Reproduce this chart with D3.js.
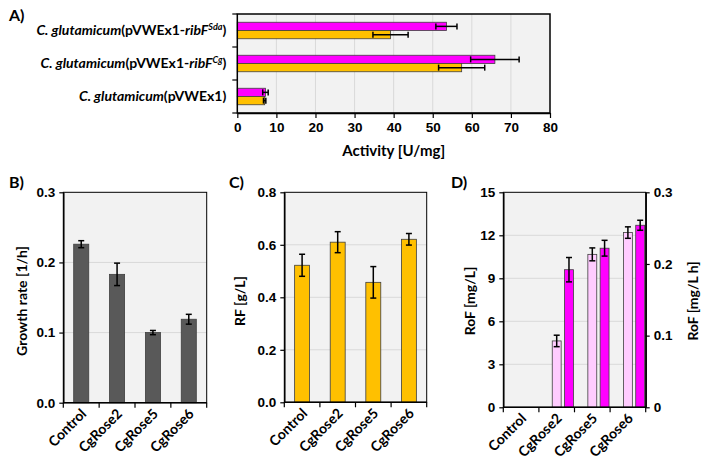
<!DOCTYPE html>
<html>
<head>
<meta charset="utf-8">
<script src="https://cdn.jsdelivr.net/npm/d3@7"></script>
<style>
  body { margin: 0; background: #fff; }
  svg { display: block; font-family: Lato, "Open Sans", sans-serif; font-weight: bold; }
</style>
</head>
<body>
<svg id="chart" width="709" height="470"></svg>
<script>
// Panel A: enzyme activity per strain
const strainKeys = ["Sda", "Cg", "empty"];
const activityMagenta = [53.5, 65.9, 7.2];
const activityMagentaErr = [2.7, 6.2, 0.7];
const activityOrange = [39.2, 57.4, 7.0];
const activityOrangeErr = [4.5, 5.9, 0.3];
const activityTicks = [0, 10, 20, 30, 40, 50, 60, 70, 80];

// Panels B-D: strains
const mutants = ["Control", "CgRose2", "CgRose5", "CgRose6"];
const growthRate = [0.226, 0.183, 0.100, 0.119];
const growthRateErr = [0.005, 0.016, 0.003, 0.007];
const growthTicks = [0, 0.1, 0.2, 0.3];

const rfTiter = [0.522, 0.610, 0.457, 0.621];
const rfTiterErr = [0.042, 0.040, 0.060, 0.022];
const rfTicks = [0, 0.2, 0.4, 0.6, 0.8];

const rofTiter = [null, 4.63, 10.67, 12.19];
const rofTiterErr = [null, 0.40, 0.45, 0.40];
const rofTiterTicks = [0, 3, 6, 9, 12, 15];
const rofRate = [null, 0.192, 0.222, 0.254];
const rofRateErr = [null, 0.017, 0.011, 0.007];
const rofRateTicks = [0, 0.1, 0.2, 0.3];

const svg = d3.select("#chart");
const plotBg = "#f2f2f2";
const gridColor = "#d9d9d9";
const barStroke = "#3f3f3f";
const tickFont = 13.5;
const labelFont = 14;

function styleAxis(g) {
  g.select(".domain").attr("stroke", "#000").attr("stroke-width", 1.5);
  g.selectAll(".tick line").attr("stroke", "#000").attr("stroke-width", 1.2);
  g.selectAll(".tick text").attr("fill", "#000").attr("font-size", tickFont).attr("font-family", null);
}

function errorBar(g, x1, x2, y1, y2, horizontal) {
  const cap = 3;
  g.append("line").attr("x1", x1).attr("x2", x2).attr("y1", y1).attr("y2", y2)
    .attr("stroke", "#000").attr("stroke-width", 1.5);
  if (horizontal) {
    [x1, x2].forEach(x => g.append("line").attr("x1", x).attr("x2", x)
      .attr("y1", y1 - cap).attr("y2", y1 + cap).attr("stroke", "#000").attr("stroke-width", 1.5));
  } else {
    [y1, y2].forEach(y => g.append("line").attr("x1", x1 - cap).attr("x2", x1 + cap)
      .attr("y1", y).attr("y2", y).attr("stroke", "#000").attr("stroke-width", 1.5));
  }
}

// ---------- Panel A ----------
(function drawA() {
  const left = 237.3, right = 550, top = 14, bottom = 113;
  const x = d3.scaleLinear().domain([0, 80]).range([left, right]);
  const y = d3.scaleBand().domain(strainKeys).range([top, bottom]);
  const sub = d3.scaleBand().domain(["m", "o"]).range([0, y.bandwidth()]).paddingOuter(1);
  const g = svg.append("g");

  g.append("rect").attr("x", left).attr("y", top).attr("width", right - left).attr("height", bottom - top)
    .attr("fill", plotBg);
  g.selectAll("line.grid").data(activityTicks.slice(1, -1)).join("line")
    .attr("x1", d => x(d)).attr("x2", d => x(d)).attr("y1", top).attr("y2", bottom)
    .attr("stroke", gridColor).attr("stroke-width", 1);

  const series = [
    { key: "m", vals: activityMagenta, errs: activityMagentaErr, color: "#ff00ff" },
    { key: "o", vals: activityOrange, errs: activityOrangeErr, color: "#ffc000" }
  ];
  series.forEach(s => {
    strainKeys.forEach((k, i) => {
      const yy = y(k) + sub(s.key);
      g.append("rect").attr("x", x(0)).attr("y", yy).attr("width", x(s.vals[i]) - x(0))
        .attr("height", sub.bandwidth()).attr("fill", s.color).attr("stroke", barStroke).attr("stroke-width", 0.8);
    });
  });
  series.forEach(s => {
    strainKeys.forEach((k, i) => {
      const yc = y(k) + sub(s.key) + sub.bandwidth() / 2;
      errorBar(g, x(s.vals[i] - s.errs[i]), x(s.vals[i] + s.errs[i]), yc, yc, true);
    });
  });

  g.append("rect").attr("x", left).attr("y", top).attr("width", right - left).attr("height", bottom - top)
    .attr("fill", "none").attr("stroke", "#000").attr("stroke-width", 1.5);

  g.append("g").attr("transform", `translate(0,${bottom})`)
    .call(d3.axisBottom(x).tickValues(activityTicks).tickSize(5).tickSizeOuter(0).tickPadding(4))
    .call(styleAxis);

  // left ticks at band boundaries
  const bounds = strainKeys.map(k => y(k)).concat([bottom]);
  g.selectAll("line.ltick").data(bounds).join("line")
    .attr("x1", left - 5).attr("x2", left).attr("y1", d => d).attr("y2", d => d)
    .attr("stroke", "#000").attr("stroke-width", 1.2);

  const labels = [
    [["C. glutamicum", "i"], ["(pVWEx1-", "n"], ["ribF", "i"], ["Sda", "s"], [")", "n"]],
    [["C. glutamicum", "i"], ["(pVWEx1-", "n"], ["ribF", "i"], ["Cg", "s"], [")", "n"]],
    [["C. glutamicum", "i"], ["(pVWEx1)", "n"]]
  ];
  labels.forEach((parts, i) => {
    const t = g.append("text").attr("x", left - 11).attr("y", y(strainKeys[i]) + y.bandwidth() / 2)
      .attr("dy", "0.35em").attr("text-anchor", "end").attr("font-size", labelFont);
    parts.forEach(([txt, st]) => {
      const ts = t.append("tspan").text(txt);
      if (st === "i") ts.attr("font-style", "italic");
      if (st === "s") ts.attr("font-style", "italic").attr("font-size", 9).attr("baseline-shift", "super");
    });
  });

  g.append("text").attr("x", (left + right) / 2).attr("y", 156).attr("text-anchor", "middle")
    .attr("font-size", 15).text("Activity [U/mg]");
  g.append("text").attr("x", 9).attr("y", 21).attr("font-size", 16).text("A)");
})();

// ---------- Panels B-D ----------
function barPanel(o) {
  const g = svg.append("g");
  const x = d3.scaleBand().domain(mutants).range([o.left, o.right]);
  const y = d3.scaleLinear().domain(o.domain).range([o.bottom, o.top]);

  g.append("rect").attr("x", o.left).attr("y", o.top).attr("width", o.right - o.left)
    .attr("height", o.bottom - o.top).attr("fill", plotBg);
  g.selectAll("line.grid").data(o.ticks.slice(1, -1)).join("line")
    .attr("x1", o.left).attr("x2", o.right).attr("y1", d => y(d)).attr("y2", d => y(d))
    .attr("stroke", gridColor).attr("stroke-width", 1);

  o.series.forEach(s => {
    const sy = s.scale ? s.scale(y) : y;
    const bw = x.bandwidth() * s.width;
    mutants.forEach((m, i) => {
      if (s.vals[i] == null) return;
      const cx = x(m) + x.bandwidth() / 2 + x.bandwidth() * s.offset;
      g.append("rect").attr("x", cx - bw / 2).attr("y", sy(s.vals[i])).attr("width", bw)
        .attr("height", sy(0) - sy(s.vals[i])).attr("fill", s.color)
        .attr("stroke", barStroke).attr("stroke-width", 0.8);
    });
    mutants.forEach((m, i) => {
      if (s.vals[i] == null) return;
      const cx = x(m) + x.bandwidth() / 2 + x.bandwidth() * s.offset;
      errorBar(g, cx, cx, sy(s.vals[i] - s.errs[i]), sy(s.vals[i] + s.errs[i]), false);
    });
  });

  g.append("rect").attr("x", o.left).attr("y", o.top).attr("width", o.right - o.left)
    .attr("height", o.bottom - o.top).attr("fill", "none").attr("stroke", "#000").attr("stroke-width", 1);

  g.append("g").attr("transform", `translate(${o.left},0)`)
    .call(d3.axisLeft(y).tickValues(o.ticks).tickFormat(o.fmt).tickSize(4).tickSizeOuter(0).tickPadding(4))
    .call(styleAxis);

  const xa = g.append("g").attr("transform", `translate(0,${o.bottom})`);
  xa.append("line").attr("x1", o.left).attr("x2", o.right).attr("y1", 0).attr("y2", 0)
    .attr("stroke", "#000").attr("stroke-width", 1.5);
  mutants.map(m => x(m)).concat([o.right]).forEach(px => {
    xa.append("line").attr("x1", px).attr("x2", px).attr("y1", 0).attr("y2", 5)
      .attr("stroke", "#000").attr("stroke-width", 1.2);
  });
  mutants.forEach(m => {
    const cx = x(m) + x.bandwidth() / 2;
    xa.append("text").attr("transform", `translate(${cx + 6},12) rotate(-45)`)
      .attr("text-anchor", "end").attr("font-size", labelFont).text(m);
  });

  g.append("text").attr("transform", `translate(${o.ylabelX},301) rotate(-90)`)
    .attr("text-anchor", "middle").attr("dy", "0.35em").attr("font-size", labelFont).text(o.ylabel);
  g.append("text").attr("x", o.letterX).attr("y", 188).attr("font-size", 16).text(o.letter);

  if (o.right2) {
    const y2 = d3.scaleLinear().domain(o.right2.domain).range([o.bottom, o.top]);
    g.append("g").attr("transform", `translate(${o.right},0)`)
      .call(d3.axisRight(y2).tickValues(o.right2.ticks).tickFormat(o.right2.fmt).tickSize(4).tickSizeOuter(0).tickPadding(4))
      .call(styleAxis);
    g.append("text").attr("transform", `translate(${o.right2.labelX},301) rotate(-90)`)
      .attr("text-anchor", "middle").attr("dy", "0.35em").attr("font-size", labelFont).text(o.right2.label);
  }
  return g;
}

barPanel({
  left: 63.3, right: 206.7, top: 192.3, bottom: 402.7,
  domain: [0, 0.3], ticks: growthTicks, fmt: d3.format(".1f"),
  series: [{ vals: growthRate, errs: growthRateErr, color: "#595959", width: 0.42, offset: 0 }],
  ylabel: "Growth rate [1/h]", ylabelX: 22, letter: "B)", letterX: 9
});

barPanel({
  left: 284.3, right: 426.7, top: 192.3, bottom: 402.3,
  domain: [0, 0.8], ticks: rfTicks, fmt: d3.format(".1f"),
  series: [{ vals: rfTiter, errs: rfTiterErr, color: "#ffc000", width: 0.42, offset: 0 }],
  ylabel: "RF [g/L]", ylabelX: 240, letter: "C)", letterX: 229
});

barPanel({
  left: 503.3, right: 645.7, top: 192.3, bottom: 407.3,
  domain: [0, 15], ticks: rofTiterTicks, fmt: d3.format("d"),
  series: [
    { vals: rofTiter, errs: rofTiterErr, color: "#ffccff", width: 0.25, offset: 0 },
    { vals: rofRate, errs: rofRateErr, color: "#ff00ff", width: 0.25, offset: 0.345,
      scale: y => d3.scaleLinear().domain([0, 0.3]).range(y.range()) }
  ],
  ylabel: "RoF [mg/L]", ylabelX: 470, letter: "D)", letterX: 451,
  right2: { domain: [0, 0.3], ticks: rofRateTicks, fmt: d => d === 0 ? "0" : d3.format(".1f")(d),
    label: "RoF [mg/L h]", labelX: 693 }
});
</script>
</body>
</html>
